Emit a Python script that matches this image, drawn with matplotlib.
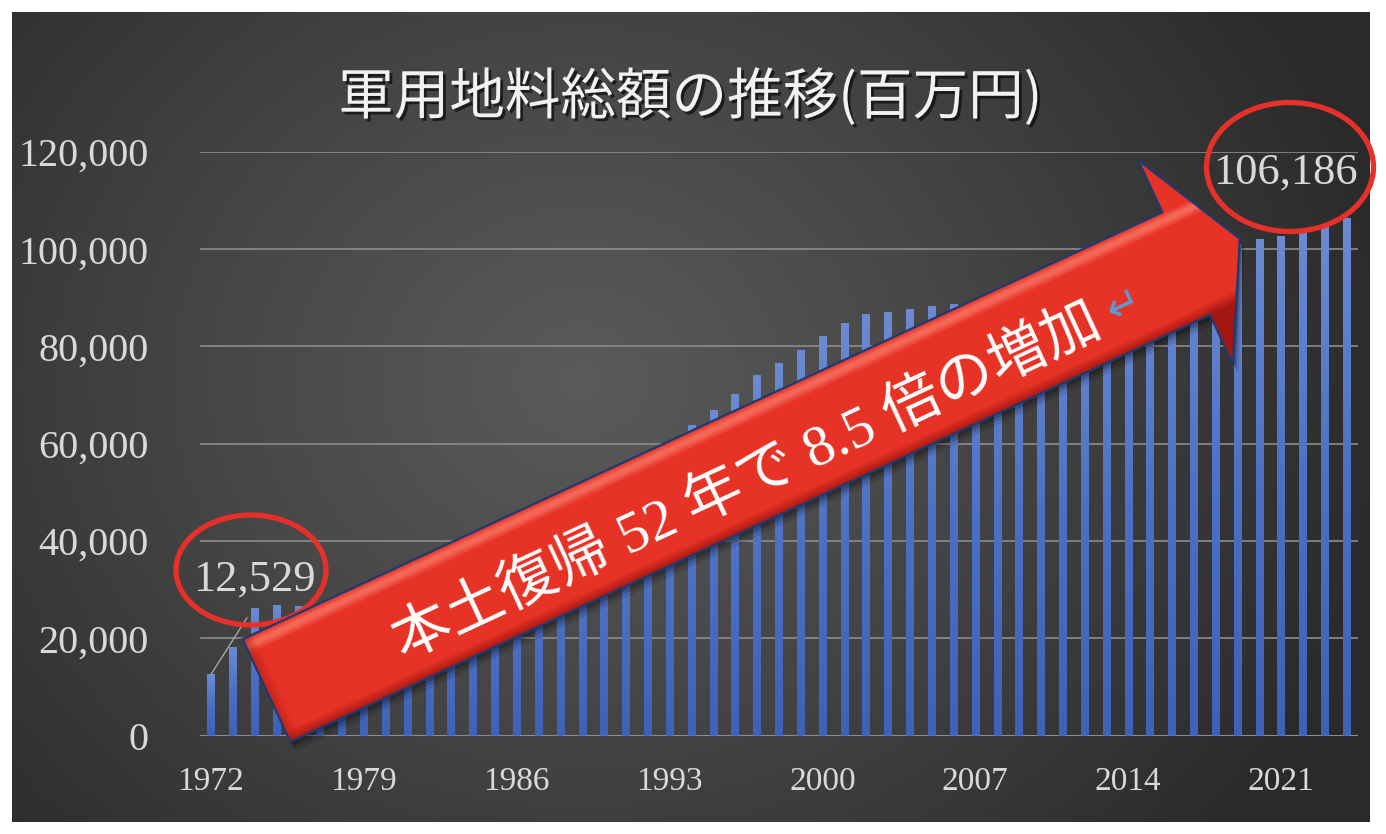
import numpy as np
import matplotlib
matplotlib.use('Agg')
import matplotlib.pyplot as plt
from matplotlib.patches import Polygon, Ellipse
from matplotlib.colors import LinearSegmentedColormap
import matplotlib.patheffects as pe

# ---------------- data ----------------
years = [1972, 1973, 1974, 1975, 1976, 1977, 1978, 1979, 1980, 1981,
         1982, 1983, 1984, 1985, 1986, 1987, 1988, 1989, 1990, 1991,
         1992, 1993, 1994, 1995, 1996, 1997, 1998, 1999, 2000, 2001,
         2002, 2003, 2004, 2005, 2006, 2007, 2008, 2009, 2010, 2011,
         2012, 2013, 2014, 2015, 2016, 2017, 2018, 2019, 2020, 2021,
         2022, 2023, 2024]
values = [12529, 18000, 26000, 26700, 26400, 26800, 28200, 29600, 31200, 33000,
          34900, 36800, 38800, 40800, 42900, 45100, 47400, 49800, 52300, 55000,
          57800, 60400, 63700, 66800, 70100, 74000, 76500, 79100, 82000, 84700,
          86500, 86900, 87500, 88200, 88600, 89000, 89600, 90200, 90900, 91600,
          92400, 93300, 94300, 95400, 96600, 97900, 99300, 100900, 101800, 102600,
          103500, 104600, 106186]
xtick_years = [1972, 1979, 1986, 1993, 2000, 2007, 2014, 2021]
yticks = [0, 20000, 40000, 60000, 80000, 100000, 120000]
title = '軍用地料総額の推移(百万円)'
arrow_text = '本土復帰 52 年で 8.5 倍の増加'

W, H = 1386, 834
fig = plt.figure(figsize=(W / 100, H / 100), dpi=100, facecolor='white')

# ---------------- background (dark radial gradient) ----------------
L, R, T, B = 12, 1370, 12, 822
bg = fig.add_axes([L / W, (H - B) / H, (R - L) / W, (B - T) / H], zorder=0)
bg.set_axis_off()
yy, xx = np.mgrid[T:B:2, L:R:2]
d = np.hypot(xx - 580, (yy - 380) * 1.15)
t = np.clip(d / 830, 0, 1) ** 1.1
c0 = np.array([0x5a, 0x5a, 0x5a]) / 255
c1 = np.array([0x2a, 0x2a, 0x2a]) / 255
img = c0[None, None, :] * (1 - t[..., None]) + c1[None, None, :] * t[..., None]
bg.imshow(img, extent=[L, R, B, T], aspect='auto', interpolation='bilinear')
bg.set_xlim(L, R)
bg.set_ylim(B, T)

# ---------------- main axes ----------------
ax = fig.add_axes([200 / W, (H - 735.5) / H, 1157.6 / W, 583.5 / H], zorder=2)
ax.set_facecolor('none')
x = np.arange(len(years))
bars = ax.bar(x, values, width=0.34, color='#4F72C4', zorder=2)
cmap = LinearSegmentedColormap.from_list('bluegrad', ['#3F62B8', '#4C70C4', '#6B8AD3'])
grad = np.linspace(0, 1, 64).reshape(-1, 1)
for b in bars:
    x0, w, h = b.get_x(), b.get_width(), b.get_height()
    ax.imshow(grad, extent=[x0, x0 + w, 0, h], origin='lower', cmap=cmap,
              aspect='auto', zorder=2.1, interpolation='bilinear')
ax.set_xlim(-0.5, len(years) - 0.5)
ax.set_ylim(0, 120000)

ax.set_yticks(yticks)
ax.set_yticklabels([f'{v:,}' for v in yticks])
ax.set_xticks([years.index(y) for y in xtick_years])
ax.set_xticklabels([str(y) for y in xtick_years])
ax.yaxis.grid(True, color='#8C8C8C', lw=1.2)
ax.set_axisbelow(True)
for s in ax.spines.values():
    s.set_visible(False)
ax.axhline(0, color='#8C8C8C', lw=1.5, zorder=1)
ax.tick_params(axis='y', length=0, pad=37, labelsize=29, labelcolor='#D9D9D9')
ax.tick_params(axis='x', length=0, pad=22, labelsize=24, labelcolor='#D9D9D9')
for lab in ax.get_xticklabels() + ax.get_yticklabels():
    lab.set_family('Liberation Serif')

# data labels
ax.text(2.0, 32000, f'{values[0]:,}', ha='center', va='center', fontsize=32,
        color='#D9D9D9', family='Liberation Serif', zorder=4)
ax.annotate('', xy=(0, values[0]), xytext=(1.65, 24200),
            arrowprops=dict(arrowstyle='-', color='#A6A6A6', lw=1.0,
                            shrinkA=0, shrinkB=0), zorder=4)
ax.text(49.2, 115800, f'{values[-1]:,}', ha='center', va='center', fontsize=32,
        color='#D9D9D9', family='Liberation Serif', zorder=4)

# ---------------- overlay (pixel coordinates) ----------------
ov = fig.add_axes([0, 0, 1, 1], zorder=5)
ov.set_xlim(0, W)
ov.set_ylim(H, 0)
ov.set_axis_off()

red = '#E8302A'
ov.add_patch(Ellipse((251, 570), 150, 110, fill=False, ec=red, lw=3.8, zorder=1))
ov.add_patch(Ellipse((1290, 167), 167, 129, fill=False, ec=red, lw=3.8, zorder=1))

# arrow
ang_deg = 24.9
ang = np.deg2rad(ang_deg)
M = np.array([266.5, 690.5])
U = np.array([np.cos(ang), -np.sin(ang)])
N = np.array([np.sin(ang), np.cos(ang)])


def P(u, n):
    return M + u * U + n * N


hw = 56.6
shape_un = [(0, -hw), (1014, -hw), (1014, -114), (1073, 0), (1014, 111), (1014, hw), (0, hw)]
pts = np.array([P(u, n) for u, n in shape_un])

for k, a in [(9, 0.10), (6, 0.14), (3.5, 0.20)]:
    ov.add_patch(Polygon(pts + np.array([k * 0.6, k]), closed=True, fc='black',
                         ec='none', alpha=a, zorder=2))

x0, y0 = pts[:, 0].min() - 4, pts[:, 1].min() - 4
x1, y1 = pts[:, 0].max() + 4, pts[:, 1].max() + 4
gy, gx = np.mgrid[y0:y1:1.0, x0:x1:1.0]
rx, ry = gx - M[0], gy - M[1]
uu = rx * U[0] + ry * U[1]
nn = rx * N[0] + ry * N[1]
base = np.array([0.905, 0.200, 0.150])
hi = np.array([0.960, 0.400, 0.340])
lo = np.array([0.640, 0.090, 0.070])
rgb = np.ones(gx.shape + (3,)) * base
tn = np.clip(nn / hw, -1, 1)
w_hi = np.clip((-tn - 0.72) / 0.12, 0, 1) * np.clip((1.0 + tn) / 0.10, 0, 1)
w_lo = np.clip((tn - 0.78) / 0.22, 0, 1)
w_left = np.clip((12 - uu) / 12, 0, 1) * 0.5
rgb = rgb * (1 - w_hi[..., None]) + hi * w_hi[..., None]
rgb = rgb * (1 - w_lo[..., None]) + lo * w_lo[..., None]
rgb = rgb * (1 - w_left[..., None]) + lo * w_left[..., None]
head = uu > 1014
w_head = np.clip((nn - 40) / 70, 0, 1) * head * 0.6
rgb = rgb * (1 - w_head[..., None]) + lo * w_head[..., None]
im = ov.imshow(rgb, extent=[x0, x1, y1, y0], aspect='auto', interpolation='bilinear', zorder=3)
clip = Polygon(pts, closed=True, transform=ov.transData)
im.set_clip_path(clip)
ov.add_patch(Polygon(pts, closed=True, fill=False, ec='#203A70', lw=1.6, zorder=4))
ov.set_xlim(0, W)
ov.set_ylim(H, 0)

tp = P(524, 14)
ov.text(tp[0], tp[1], arrow_text, rotation=ang_deg, rotation_mode='anchor',
        ha='center', va='center', fontsize=42, color='white',
        family=['Liberation Serif', 'Noto Sans CJK JP'], zorder=5)
rp = P(940, 12)
ov.text(rp[0], rp[1], '↵', rotation=ang_deg, rotation_mode='anchor',
        ha='center', va='center', fontsize=30, color='#5B9BD5',
        family='DejaVu Sans', zorder=5)

# title
fig.text(690 / W, 1 - 98 / H, title, ha='center', va='center', fontsize=40,
         color='#F2F2F2', family=['Noto Sans CJK JP', 'DejaVu Sans'], zorder=6,
         path_effects=[pe.withSimplePatchShadow(offset=(2, -2), shadow_rgbFace='black', alpha=0.6)])

fig.savefig('out.png', dpi=100, facecolor='white')
